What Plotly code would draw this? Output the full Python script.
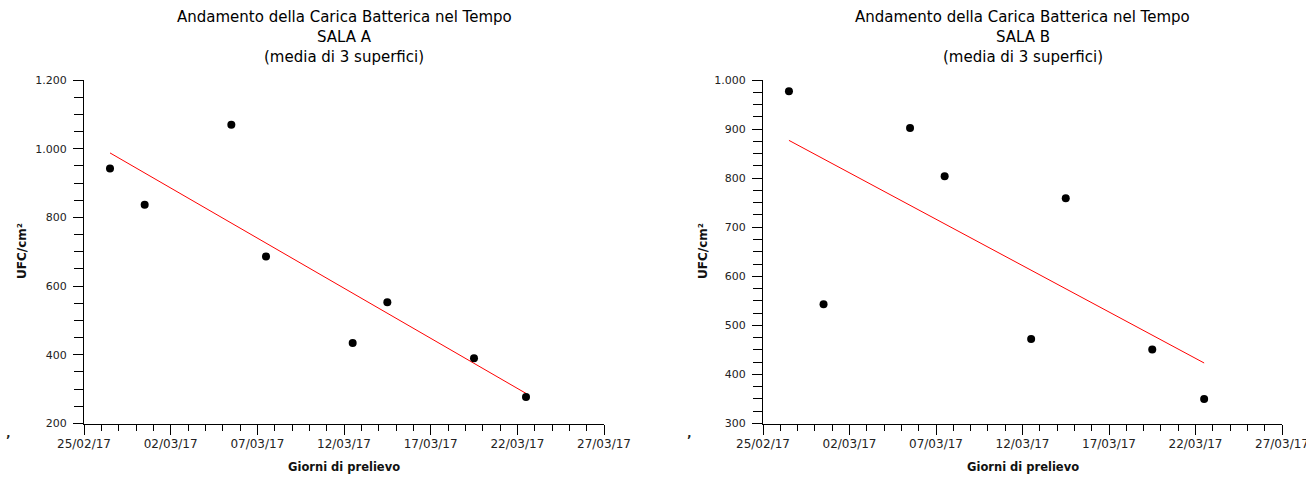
import numpy as np
import pandas as pd
import plotly.graph_objects as go

# Sampling days and mean bacterial load (UFC/cm², mean of 3 surfaces)
sample_dates = ["2017-02-26", "2017-02-28", "2017-03-05", "2017-03-07",
                "2017-03-12", "2017-03-14", "2017-03-19", "2017-03-22"]
sala_a = [942, 837, 1070, 686, 434, 553, 390, 277]
sala_b = [977, 543, 902, 804, 472, 759, 451, 350]

room_names = ["SALA A", "SALA B"]
y_ranges = [[200, 1200], [300, 1000]]
y_major = [200, 100]
y_minor = [50, 25]

title_main = "Andamento della Carica Batterica nel Tempo"
title_sub = "(media di 3 superfici)"
x_title = "Giorni di prelievo"
y_title = "UFC/cm²"

W, H = 1306, 477
FONT = "DejaVu Sans"

# each sample is drawn at the middle of its day
x_dates = pd.to_datetime(sample_dates) + pd.Timedelta(hours=12)
day_num = (x_dates - x_dates[0]) / pd.Timedelta(days=1)

fig = go.Figure()

x_domains = [[84 / W, 604 / W], [763 / W, 1282 / W]]
y_domain = [1 - 423.5 / H, 1 - 80 / H]

for i, values in enumerate([sala_a, sala_b]):
    xa = "x" if i == 0 else "x2"
    ya = "y" if i == 0 else "y2"
    # least-squares trend line across the sampling period
    slope, intercept = np.polyfit(day_num, values, 1)
    trend_x = [x_dates[0], x_dates[-1]]
    trend_y = [intercept + slope * day_num[0], intercept + slope * day_num[-1]]
    fig.add_trace(go.Scatter(x=trend_x, y=trend_y, mode="lines",
                             line=dict(color="#ff0000", width=1),
                             xaxis=xa, yaxis=ya, showlegend=False,
                             hoverinfo="skip"))
    fig.add_trace(go.Scatter(x=x_dates, y=values, mode="markers",
                             marker=dict(color="black", size=8),
                             xaxis=xa, yaxis=ya, showlegend=False))

common_x = dict(
    type="date",
    range=["2017-02-25", "2017-03-27"],
    tick0="2017-02-25", dtick=5 * 86400000,
    tickformat="%d/%m/%y",
    ticks="outside", ticklen=10, tickwidth=1, tickcolor="black",
    minor=dict(dtick=86400000, tick0="2017-02-25", ticks="outside",
               ticklen=6, tickwidth=1, tickcolor="black", showgrid=False),
    showline=True, linecolor="black", linewidth=1,
    showgrid=False, zeroline=False, automargin=False,
    ticklabeloverflow="allow",
    ticklabelstandoff=-1,
    tickfont=dict(family=FONT, size=12, color="#222"),
)

for i in range(2):
    xkey = "xaxis" if i == 0 else "xaxis2"
    ykey = "yaxis" if i == 0 else "yaxis2"
    xa = dict(common_x)
    xa["domain"] = x_domains[i]
    xa["anchor"] = "y" if i == 0 else "y2"
    ya = dict(
        domain=y_domain,
        anchor="x" if i == 0 else "x2",
        range=y_ranges[i], dtick=y_major[i], tick0=0,
        tickformat=",d",
        ticks="outside", ticklen=10, tickwidth=1, tickcolor="black",
        minor=dict(dtick=y_minor[i], ticks="outside", ticklen=9,
                   tickwidth=1, tickcolor="black", showgrid=False),
        showline=True, linecolor="black", linewidth=1,
        showgrid=False, zeroline=False, automargin=False,
        tickfont=dict(family=FONT, size=11, color="#222"),
        ticklabelstandoff=4,
    )
    fig.update_layout({xkey: xa, ykey: ya})

annotations = []
for i in range(2):
    cx = (x_domains[i][0] + x_domains[i][1]) / 2
    for text, ypix in zip([title_main, room_names[i], title_sub], [17, 37, 57]):
        annotations.append(dict(text=text, x=cx, y=1 - ypix / H,
                                xref="paper", yref="paper", showarrow=False,
                                xanchor="center", yanchor="middle",
                                font=dict(family=FONT, size=15, color="#000")))
    annotations.append(dict(text="<b>" + x_title + "</b>", x=cx, y=1 - 467 / H,
                            xref="paper", yref="paper", showarrow=False,
                            xanchor="center", yanchor="middle",
                            font=dict(family=FONT, size=11.5, color="#111")))
    annotations.append(dict(text="<b>" + y_title + "</b>",
                            x=(22 if i == 0 else 703) / W, y=1 - 251 / H,
                            xref="paper", yref="paper", showarrow=False,
                            textangle=-90, xanchor="center", yanchor="middle",
                            font=dict(family=FONT, size=12, color="#111")))
    annotations.append(dict(text="<b>’</b>", x=(8 if i == 0 else 689) / W,
                            y=1 - 440 / H,
                            xref="paper", yref="paper", showarrow=False,
                            xanchor="center", yanchor="middle",
                            font=dict(family=FONT, size=12, color="#222")))

fig.update_layout(
    width=W, height=H,
    margin=dict(l=0, r=0, t=0, b=0),
    paper_bgcolor="white", plot_bgcolor="white",
    separators=",.",
    annotations=annotations,
    showlegend=False,
)

fig.write_html("out.html")
